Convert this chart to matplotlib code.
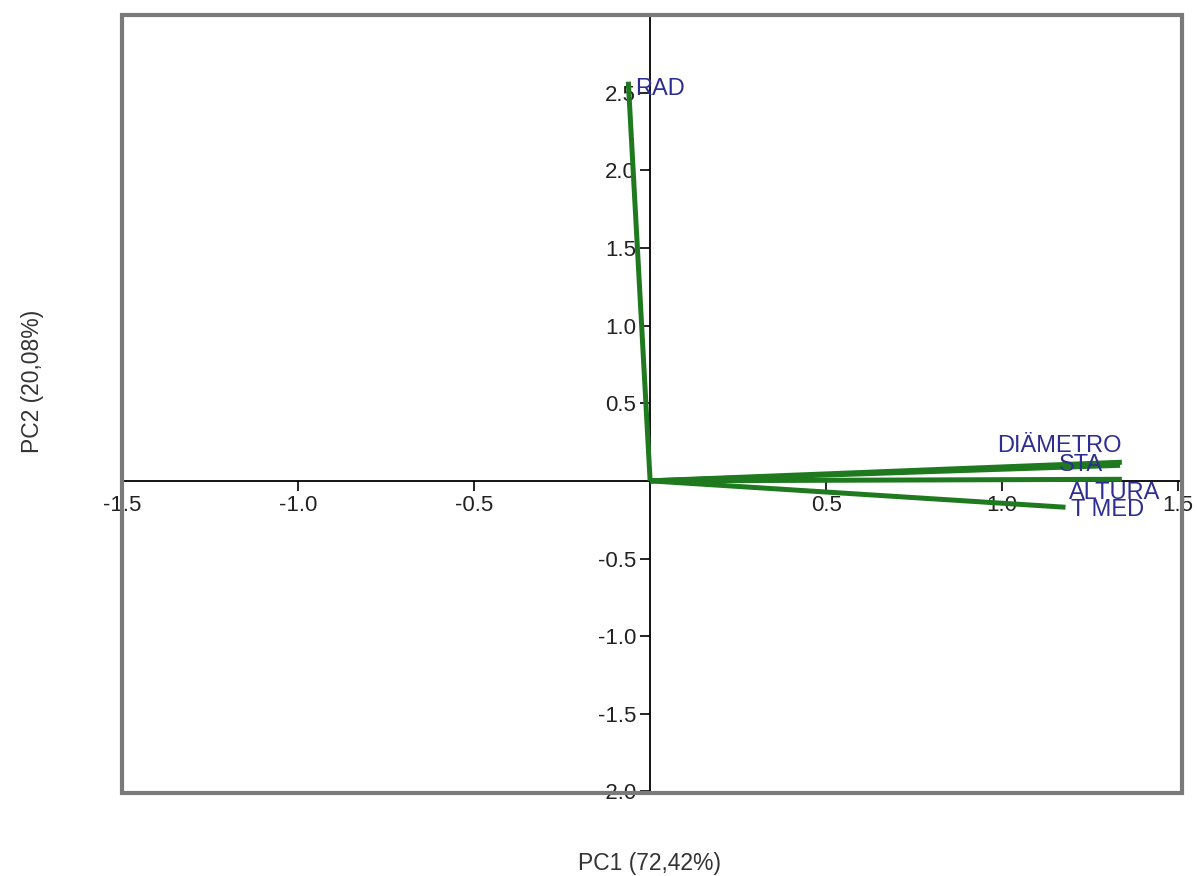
import numpy as np
import matplotlib.pyplot as plt
from matplotlib.patches import Rectangle

plt.rcParams['font.family'] = ['Liberation Sans', 'DejaVu Sans']

# loadings
variables = ["RAD", "DIÄMETRO", "STA", "ALTURA", "T MED"]
pc1 = [-0.062, 1.34, 1.335, 1.34, 1.18]
pc2 = [2.57, 0.12, 0.10, 0.01, -0.17]

# label placement (pixels from vector tip)
offsets = [(7, -7), (0, 5), (-17, 0), (-53, -14), (5, -3)]
aligns = [("left", "center"), ("right", "bottom"), ("right", "center"), ("left", "center"), ("left", "center")]

fig = plt.figure(figsize=(11.97, 8.76), dpi=100)
ax = fig.add_axes([0.102, 0.0947, 0.8855, 0.8883])

for x, y in zip(pc1, pc2):
	ax.plot([0, x], [0, y], color='#1f7a1f', lw=3.6, solid_capstyle='butt', zorder=3)

for name, x, y, off, (ha, va) in zip(variables, pc1, pc2, offsets, aligns):
	ax.annotate(name, (x, y), xytext=off, textcoords='offset pixels', ha=ha, va=va,
		color='#2e2e92', fontsize=17, zorder=4)

ax.set_xlim(-1.5, 1.511)
ax.set_ylim(-2.01, 3.0)

for s in ['top', 'right']:
	ax.spines[s].set_visible(False)
ax.spines['left'].set_position(('data', 0))
ax.spines['bottom'].set_position(('data', 0))
ax.spines['left'].set_linewidth(1.3)
ax.spines['bottom'].set_linewidth(1.3)

xt = [-1.5, -1.0, -0.5, 0.5, 1.0, 1.5]
yt = [-2.0, -1.5, -1.0, -0.5, 0.5, 1.0, 1.5, 2.0, 2.5]
ax.set_xticks(xt)
ax.set_xticklabels(["%.1f" % v for v in xt])
ax.set_yticks(yt)
ax.set_yticklabels(["%.1f" % v for v in yt])
ax.tick_params(axis='both', direction='out', length=7, width=1.2, labelsize=16,
	colors='black', labelcolor='#222222', pad=3)

ax.add_patch(Rectangle((0, 0), 1, 1, transform=ax.transAxes, fill=False,
	edgecolor='#7a7a7a', lw=3, clip_on=False, zorder=5))

fig.text(0.543, 0.0137, "PC1 (72,42%)", ha='center', va='center', fontsize=16.5, color='#333333')
fig.text(0.027, 0.565, "PC2 (20,08%)", ha='center', va='center', rotation=90, fontsize=16.5, color='#333333')

fig.savefig("out.png", dpi=100)
